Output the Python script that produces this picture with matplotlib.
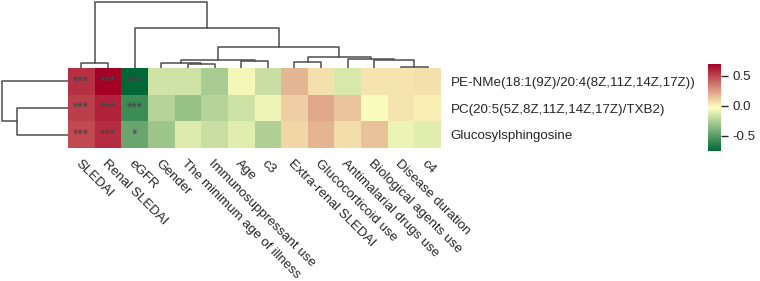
import numpy as np
import matplotlib
matplotlib.use("Agg")
import matplotlib.pyplot as plt
from matplotlib.colors import LinearSegmentedColormap

plt.rcParams["font.family"] = ["Liberation Sans", "DejaVu Sans"]
plt.rcParams["axes.unicode_minus"] = False

metabolites = [
    "PE-NMe(18:1(9Z)/20:4(8Z,11Z,14Z,17Z))",
    "PC(20:5(5Z,8Z,11Z,14Z,17Z)/TXB2)",
    "Glucosylsphingosine",
]
clinical = [
    "SLEDAI", "Renal SLEDAI", "eGFR", "Gender", "The minimum age of illness",
    "Immunosuppressant use", "Age", "c3", "Extra-renal SLEDAI",
    "Glucocorticoid use", "Antimalarial drugs use", "Biological agents use",
    "Disease duration", "c4",
]

# correlation values, rows = metabolites, cols = clinical (display order)
corr = np.array([
    [0.56, 0.70, -0.75, -0.16, -0.16, -0.27, -0.06, -0.18, 0.18, 0.065, -0.135, 0.05, 0.05, 0.06],
    [0.52, 0.60, -0.58, -0.23, -0.32, -0.23, -0.17, -0.075, 0.115, 0.22, 0.14, -0.04, 0.05, 0.02],
    [0.49, 0.57, -0.45, -0.30, -0.12, -0.18, -0.11, -0.25, 0.09, 0.19, 0.07, 0.15, -0.08, -0.11],
])

signif = [
    ["***", "***", "***"] + [""] * 11,
    ["***", "***", "***"] + [""] * 11,
    ["***", "***", "*"] + [""] * 11,
]

# linkage in display order: (left, right, height); ids >= n are earlier merges
col_links = [
    (0, 1, 0.080),
    (4, 5, 0.060),
    (3, 15, 0.080),
    (6, 7, 0.106),
    (16, 17, 0.121),
    (8, 9, 0.095),
    (12, 13, 0.020),
    (11, 20, 0.121),
    (10, 21, 0.131),
    (19, 22, 0.170),
    (18, 23, 0.321),
    (2, 24, 0.599),
    (14, 25, 1.0),
]
row_links = [
    (1, 2, 0.765),
    (0, 3, 1.0),
]


def dendro_segments(links, n):
    pos = {i: i + 0.5 for i in range(n)}
    hgt = {i: 0.0 for i in range(n)}
    segs = []
    for k, (a, b, h) in enumerate(links):
        xa, xb = pos[a], pos[b]
        segs.append(([xa, xa, xb, xb], [hgt[a], h, h, hgt[b]]))
        pos[n + k] = (xa + xb) / 2
        hgt[n + k] = h
    return segs


cmap = LinearSegmentedColormap.from_list("gyr", ["#006837", "#FFFFBF", "#A50026"])
vmin, vmax = corr.min(), corr.max()

W, H = 760, 281
fig = plt.figure(figsize=(W / 100, H / 100), dpi=100)


def frac(x0, y0, x1, y1):
    return [x0 / W, 1 - y1 / H, (x1 - x0) / W, (y1 - y0) / H]


ax = fig.add_axes(frac(68, 68, 441, 148))
ax_top = fig.add_axes(frac(68, 0, 441, 68))
ax_left = fig.add_axes(frac(0, 68, 68, 148))
ax_cb = fig.add_axes(frac(708, 64, 721, 151))

nr, nc = corr.shape
mesh = ax.pcolormesh(np.arange(nc + 1), np.arange(nr + 1), corr,
                     cmap=cmap, vmin=vmin, vmax=vmax)
ax.set_xlim(0, nc)
ax.set_ylim(nr, 0)
for i in range(nr):
    for j in range(nc):
        if signif[i][j]:
            ax.text(j + 0.5, i + 0.5, signif[i][j], ha="center", va="center",
                    fontsize=10, color="#444444")

ax.set_yticks(np.arange(nr) + 0.5)
ax.set_yticklabels(metabolites, fontsize=9.6, color="#262626")
ax.yaxis.tick_right()
ax.set_xticks(np.arange(nc) + 0.5)
ax.set_xticklabels(clinical, fontsize=9.6, color="#262626", rotation=-45,
                   ha="left", va="top", rotation_mode="anchor")
ax.tick_params(length=0)
ax.tick_params(axis="y", pad=7)
ax.tick_params(axis="x", pad=7)
for s in ax.spines.values():
    s.set_visible(False)

line_kw = dict(color="#4d4d4d", lw=1.1)
for xs, ys in dendro_segments(col_links, nc):
    ax_top.plot(xs, ys, **line_kw)
ax_top.set_xlim(0, nc)
ax_top.set_ylim(0, 1.0256)
ax_top.axis("off")

for xs, ys in dendro_segments(row_links, nr):
    ax_left.plot(ys, xs, **line_kw)
ax_left.set_ylim(nr, 0)
ax_left.set_xlim(1.0256, 0)
ax_left.axis("off")

cb = fig.colorbar(mesh, cax=ax_cb, ticks=[-0.5, 0.0, 0.5])
cb.outline.set_visible(False)
cb.ax.tick_params(labelsize=9.6, colors="#262626", length=5, width=1)
cb.ax.set_yticklabels(["-0.5", "0.0", "0.5"])

fig.savefig("out.png", dpi=100)
